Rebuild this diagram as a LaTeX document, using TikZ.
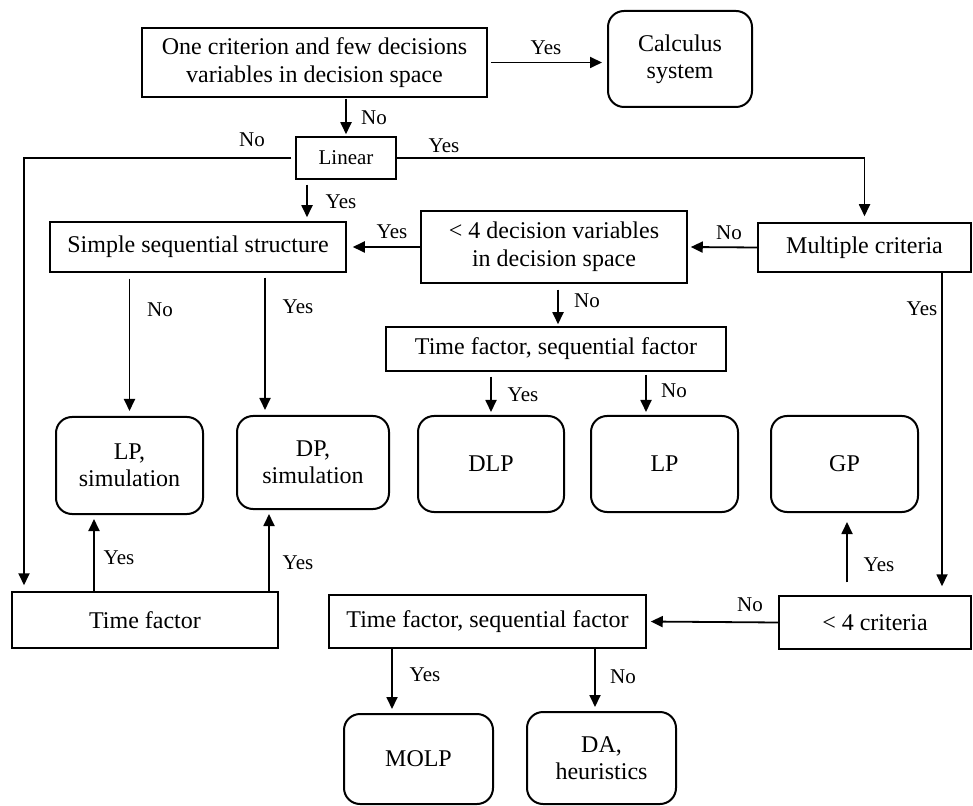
\documentclass[tikz,border=0pt]{standalone}
\usepackage{fontspec}
\setmainfont{Liberation Serif}
\usetikzlibrary{arrows.meta}
\begin{document}
\begin{tikzpicture}[x=0.5pt,y=-0.5pt,
  box/.style={draw,line width=0.75pt,rectangle,inner sep=0pt,align=center,font=\fontsize{12}{14}\selectfont},
  rbox/.style={draw,line width=1pt,rounded corners=8pt,inner sep=0pt,align=center,font=\fontsize{12}{13.5}\selectfont},
  arr/.style={line width=0.9pt,-{Triangle[length=6pt,width=5.5pt]}},
  lbl/.style={inner sep=0pt,font=\fontsize{10.5}{12}\selectfont}]
\useasboundingbox (0,0) rectangle (973,806);
% decision boxes
\node[box,minimum width=172.5pt,minimum height=34.5pt] (top) at (314.5,62.5) {One criterion and few decisions\\variables in decision space};
\node[box,minimum width=50pt,minimum height=21pt,font=\fontsize{10.5}{12}\selectfont] (linear) at (346,158) {Linear};
\node[box,minimum width=148pt,minimum height=25pt] (simple) at (198,247) {Simple sequential structure};
\node[box,minimum width=133pt,minimum height=36pt] (dec4) at (554,247) {< 4 decision variables\\in decision space};
\node[box,minimum width=106.5pt,minimum height=24.5pt] (multi) at (864.5,247.5) {Multiple criteria};
\node[box,minimum width=170pt,minimum height=22pt] (tfs1) at (556,349) {Time factor, sequential factor};
\node[box,minimum width=133pt,minimum height=28pt] (tf) at (145,620) {Time factor};
\node[box,minimum width=158.5pt,minimum height=26.5pt] (tfs2) at (487.5,621.5) {Time factor, sequential factor};
\node[box,minimum width=96pt,minimum height=26.5pt] (c4) at (875,622.5) {< 4 criteria};
% result boxes
\node[rbox,minimum width=72pt,minimum height=48pt] (calc) at (680,59) {Calculus\\system};
\node[rbox,minimum width=73.5pt,minimum height=48.5pt] (lpsim) at (129.5,465.5) {LP,\\simulation};
\node[rbox,minimum width=76pt,minimum height=46.5pt] (dpsim) at (313,462.5) {DP,\\simulation};
\node[rbox,minimum width=73pt,minimum height=48pt] (dlp) at (491,464) {DLP};
\node[rbox,minimum width=73.5pt,minimum height=48pt] (lp) at (664.5,464) {LP};
\node[rbox,minimum width=73.5pt,minimum height=48pt] (gp) at (844.5,464) {GP};
\node[rbox,minimum width=74.5pt,minimum height=45pt] (molp) at (418.5,759) {MOLP};
\node[rbox,minimum width=74.5pt,minimum height=46pt] (da) at (601.5,758) {DA,\\heuristics};
% helper x positions
\coordinate (xL) at (24,0);
\coordinate (x307) at (307,0);
\coordinate (x942) at (942,0);
\coordinate (x558) at (558,0);
\coordinate (x646) at (646,0);
\coordinate (x265) at (265,0);
\coordinate (x94) at (94,0);
\coordinate (x269) at (269,0);
\coordinate (x847) at (847,0);
\coordinate (x392) at (392,0);
\coordinate (x595) at (595,0);
% connectors
\draw[arr,shorten <=1.5pt,shorten >=2.5pt] (top.east) -- (top.east -| calc.west);
\draw[arr,shorten <=0.5pt,shorten >=1pt] (top.south -| linear.north) -- (linear.north);
\draw[arr,shorten <=2pt,shorten >=3pt] (linear.west) -- (linear.west -| xL) -- (tf.north -| xL);
\draw[arr,shorten >=3pt] (linear.east) -| (multi.north);
\draw[arr,shorten <=2.5pt,shorten >=2pt] (linear.south -| x307) -- (simple.north -| x307);
\draw[arr,shorten >=3pt] (dec4.west) -- (simple.east);
\draw[arr,shorten >=1.5pt] (multi.west) -- (dec4.east);
\draw[arr,shorten >=4.5pt] (multi.south -| x942) -- (c4.north -| x942);
\draw[arr,shorten <=3pt,shorten >=1pt] (dec4.south -| x558) -- (tfs1.north -| x558);
\draw[arr,shorten <=2.5pt,shorten >=1.5pt] (tfs1.south -| dlp.north) -- (dlp.north);
\draw[arr,shorten <=1.5pt,shorten >=1.5pt] (tfs1.south -| x646) -- (lp.north -| x646);
\draw[arr,shorten <=3pt,shorten >=2.5pt] (simple.south -| lpsim.north) -- (lpsim.north);
\draw[arr,shorten <=2.5pt,shorten >=2.5pt] (simple.south -| x265) -- (dpsim.north -| x265);
\draw[arr,shorten >=2pt] (tf.north -| x94) -- (lpsim.south -| x94);
\draw[arr,shorten >=2pt] (tf.north -| x269) -- (dpsim.south -| x269);
\draw[arr,shorten >=2pt] (c4.west) -- (tfs2.east);
\draw[arr,shorten <=6.5pt,shorten >=4.5pt] (c4.north -| x847) -- (gp.south -| x847);
\draw[arr,shorten >=2pt] (tfs2.south -| x392) -- (molp.north -| x392);
\draw[arr,shorten >=2pt] (tfs2.south -| x595) -- (da.north -| x595);
% labels
\node[lbl] (l1) at (546,48) {Yes};
\node[lbl] (l2) at (374,118) {No};
\node[lbl] (l3) at (252,140) {No};
\node[lbl] (l4) at (444,146) {Yes};
\node[lbl] (l5) at (341,202) {Yes};
\node[lbl] (l6) at (392,232) {Yes};
\node[lbl] (l7) at (729,233) {No};
\node[lbl] (l8) at (922,309) {Yes};
\node[lbl] (l9) at (587,301) {No};
\node[lbl] (l10) at (523,395) {Yes};
\node[lbl] (l11) at (674,391) {No};
\node[lbl] (l12) at (160,310) {No};
\node[lbl] (l13) at (298,307) {Yes};
\node[lbl] (l14) at (119,558) {Yes};
\node[lbl] (l15) at (298,563) {Yes};
\node[lbl] (l16) at (750,605) {No};
\node[lbl] (l17) at (879,565) {Yes};
\node[lbl] (l18) at (425,675) {Yes};
\node[lbl] (l19) at (623,677) {No};
\end{tikzpicture}
\end{document}
